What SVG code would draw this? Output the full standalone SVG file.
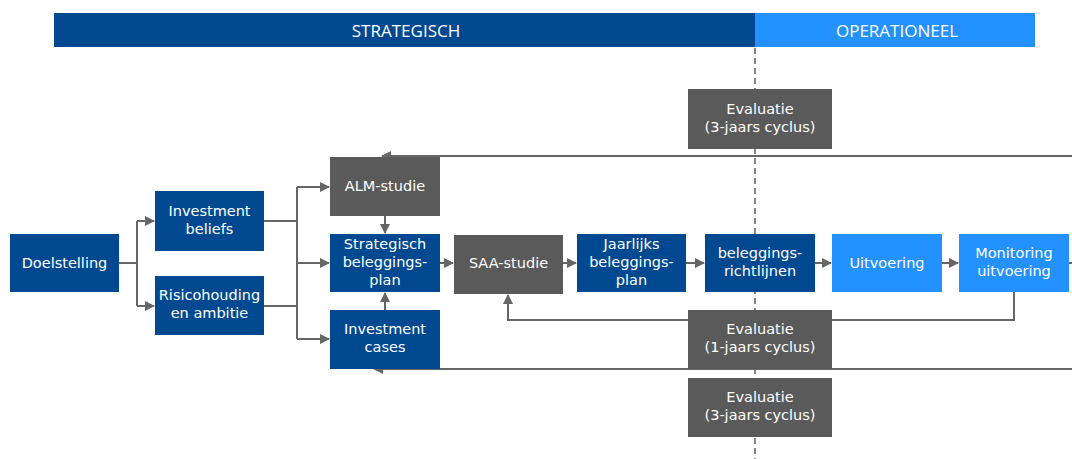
<svg xmlns="http://www.w3.org/2000/svg" width="1072" height="459" viewBox="0 0 1072 459">
  <defs>
    <style>
      .dark { fill: #004990; }
      .light { fill: #2391FF; }
      .gray { fill: #5A5A5A; }
      .lbl { font-family: "DejaVu Sans", "Liberation Sans", sans-serif; font-size: 14.5px; fill: #FFFFFF; text-anchor: middle; }
      .hdr { font-family: "Open Sans", "Liberation Sans", sans-serif; font-size: 17px; fill: #FFFFFF; text-anchor: middle; }
      .wire { fill: none; stroke: #666666; stroke-width: 2; }
      .divider { fill: none; stroke: #444444; stroke-width: 1.3; stroke-dasharray: 6 4; }
    </style>
    <marker id="arrow" viewBox="0 0 10 10" refX="9" refY="5" markerWidth="5" markerHeight="5" orient="auto-start-reverse" markerUnits="strokeWidth">
      <path d="M0,0 L10,5 L0,10 z" fill="#666666"/>
    </marker>
  </defs>

  <rect width="1072" height="459" fill="#FFFFFF"/>

  <!-- header bands -->
  <g id="header">
    <rect class="dark" x="54" y="13" width="701" height="34"/>
    <rect class="light" x="755" y="13" width="280" height="34"/>
    <text class="hdr" x="406" y="36.5">STRATEGISCH</text>
    <text class="hdr" x="897" y="36.5">OPERATIONEEL</text>
  </g>

  <!-- strategic / operational divider -->
  <line class="divider" x1="755" y1="48" x2="755" y2="459"/>

  <!-- connectors -->
  <g id="connectors">
    <!-- Doelstelling fan-out -->
    <path class="wire" d="M119,263 H137"/>
    <path class="wire" d="M137,221 V306"/>
    <path class="wire" d="M137,221 H154" marker-end="url(#arrow)"/>
    <path class="wire" d="M137,306 H154" marker-end="url(#arrow)"/>
    <!-- beliefs / risk into the three studies -->
    <path class="wire" d="M264,221 H297"/>
    <path class="wire" d="M264,306 H297"/>
    <path class="wire" d="M297,187 V339"/>
    <path class="wire" d="M297,187 H329" marker-end="url(#arrow)"/>
    <path class="wire" d="M297,263 H329" marker-end="url(#arrow)"/>
    <path class="wire" d="M297,339 H329" marker-end="url(#arrow)"/>
    <!-- ALM and cases into strategic plan -->
    <path class="wire" d="M385,216 V233" marker-end="url(#arrow)"/>
    <path class="wire" d="M385,310 V293" marker-end="url(#arrow)"/>
    <!-- main chain -->
    <path class="wire" d="M440,263 H453" marker-end="url(#arrow)"/>
    <path class="wire" d="M563,263 H576" marker-end="url(#arrow)"/>
    <path class="wire" d="M686,263 H704" marker-end="url(#arrow)"/>
    <path class="wire" d="M815,263 H831" marker-end="url(#arrow)"/>
    <path class="wire" d="M942,263 H958" marker-end="url(#arrow)"/>
    <path class="wire" d="M1069,263 H1072"/>
    <!-- yearly evaluation loop back to SAA -->
    <path class="wire" d="M1014,292 V320 H508 V295" marker-end="url(#arrow)"/>
    <!-- three-year evaluation loops -->
    <path class="wire" d="M1072,156 H382" marker-end="url(#arrow)"/>
    <path class="wire" d="M1072,369 H374" marker-end="url(#arrow)"/>
  </g>

  <g id="doelstelling">
    <rect class="dark" x="10" y="234" width="109" height="58"/>
    <text class="lbl" x="64.5" y="268">Doelstelling</text>
  </g>
  <g id="investment-beliefs">
    <rect class="dark" x="155" y="191" width="109" height="60"/>
    <text class="lbl" x="209.5" y="216">Investment</text>
    <text class="lbl" x="209.5" y="234">beliefs</text>
  </g>
  <g id="risicohouding">
    <rect class="dark" x="155" y="276" width="109" height="59"/>
    <text class="lbl" x="209.5" y="300">Risicohouding</text>
    <text class="lbl" x="209.5" y="318">en ambitie</text>
  </g>
  <g id="alm-studie">
    <rect class="gray" x="330" y="157" width="110" height="59"/>
    <text class="lbl" x="385" y="191">ALM-studie</text>
  </g>
  <g id="strategisch-plan">
    <rect class="dark" x="330" y="234" width="110" height="58"/>
    <text class="lbl" x="385" y="249">Strategisch</text>
    <text class="lbl" x="385" y="267">beleggings-</text>
    <text class="lbl" x="385" y="285">plan</text>
  </g>
  <g id="investment-cases">
    <rect class="dark" x="330" y="310" width="110" height="59"/>
    <text class="lbl" x="385" y="334">Investment</text>
    <text class="lbl" x="385" y="352">cases</text>
  </g>
  <g id="saa-studie">
    <rect class="gray" x="454" y="235" width="109" height="59"/>
    <text class="lbl" x="508.5" y="268">SAA-studie</text>
  </g>
  <g id="jaarlijks-plan">
    <rect class="dark" x="577" y="234" width="109" height="58"/>
    <text class="lbl" x="631.5" y="249">Jaarlijks</text>
    <text class="lbl" x="631.5" y="267">beleggings-</text>
    <text class="lbl" x="631.5" y="285">plan</text>
  </g>
  <g id="richtlijnen">
    <rect class="dark" x="705" y="234" width="110" height="58"/>
    <text class="lbl" x="760" y="258">beleggings-</text>
    <text class="lbl" x="760" y="276">richtlijnen</text>
  </g>
  <g id="uitvoering">
    <rect class="light" x="832" y="234" width="110" height="58"/>
    <text class="lbl" x="887" y="268">Uitvoering</text>
  </g>
  <g id="monitoring">
    <rect class="light" x="959" y="234" width="110" height="58"/>
    <text class="lbl" x="1014" y="258">Monitoring</text>
    <text class="lbl" x="1014" y="276">uitvoering</text>
  </g>
  <g id="evaluatie-3-top">
    <rect class="gray" x="688" y="89" width="144" height="60"/>
    <text class="lbl" x="760" y="114">Evaluatie</text>
    <text class="lbl" x="760" y="132">(3-jaars cyclus)</text>
  </g>
  <g id="evaluatie-1">
    <rect class="gray" x="688" y="310" width="144" height="59"/>
    <text class="lbl" x="760" y="334">Evaluatie</text>
    <text class="lbl" x="760" y="352">(1-jaars cyclus)</text>
  </g>
  <g id="evaluatie-3-bottom">
    <rect class="gray" x="688" y="378" width="144" height="59"/>
    <text class="lbl" x="760" y="402">Evaluatie</text>
    <text class="lbl" x="760" y="420">(3-jaars cyclus)</text>
  </g>
</svg>
